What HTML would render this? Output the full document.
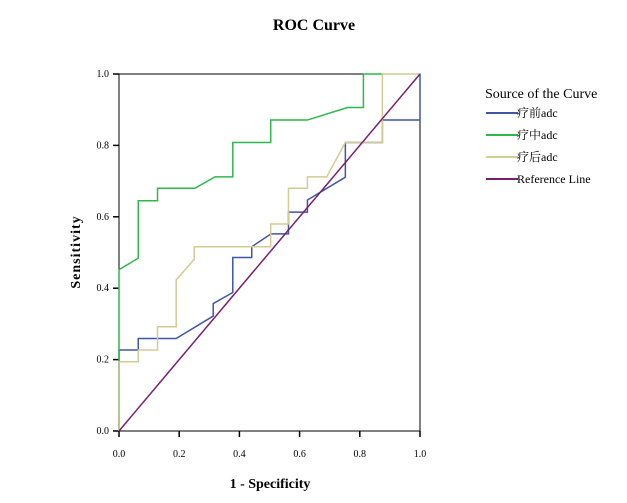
<!DOCTYPE html>
<html><head><meta charset="utf-8"><style>
body{margin:0;background:#fff;width:627px;height:503px;overflow:hidden}
svg{display:block}
text{font-family:"Liberation Serif","Noto Serif CJK SC",serif;fill:#000}
</style></head><body>
<svg id="c" width="627" height="503">
<text x="314" y="30" text-anchor="middle" font-size="16" font-weight="bold">ROC Curve</text>
<text x="270" y="488" text-anchor="middle" font-size="14" font-weight="bold">1 - Specificity</text>
<text transform="translate(80,252) rotate(-90)" text-anchor="middle" font-size="14" font-weight="bold" letter-spacing="1">Sensitivity</text>
<g id="axes"></g><g id="series"></g>
<text x="485" y="98" font-size="14">Source of the Curve</text>
<g id="legend"></g>
</svg>
<script>
const ticks=[0,0.2,0.4,0.6,0.8,1.0];
const seriesNames=["疗前adc","疗中adc","疗后adc","Reference Line"];
const seriesColors=["#3e55a8","#2db84a","#d2cb92","#76206f"];
const blueX=[0,0,0.064,0.064,0.19,0.313,0.313,0.378,0.378,0.441,0.441,0.505,0.563,0.563,0.626,0.626,0.752,0.752,0.875,0.875,1,1];
const blueY=[0,0.227,0.227,0.259,0.259,0.322,0.357,0.388,0.486,0.486,0.516,0.552,0.552,0.613,0.613,0.647,0.711,0.808,0.808,0.871,0.871,1];
const greenX=[0,0,0.064,0.064,0.128,0.128,0.252,0.319,0.378,0.378,0.504,0.504,0.626,0.759,0.812,0.812,0.875];
const greenY=[0,0.452,0.484,0.645,0.645,0.68,0.68,0.712,0.712,0.808,0.808,0.871,0.871,0.906,0.906,1,1];
const tanX=[0,0,0.064,0.064,0.128,0.128,0.19,0.19,0.25,0.25,0.504,0.504,0.563,0.563,0.626,0.626,0.69,0.752,0.875,0.875,1];
const tanY=[0,0.194,0.194,0.227,0.227,0.292,0.292,0.423,0.481,0.516,0.516,0.58,0.58,0.68,0.68,0.712,0.712,0.808,0.808,1,1];
const refX=[0,1];const refY=[0,1];
const X0=119,X1=420,Y0=431,Y1=74;
const sx=v=>X0+v*(X1-X0), sy=v=>Y0-v*(Y0-Y1);
const NS="http://www.w3.org/2000/svg";
function mk(t,a,p){const e=document.createElementNS(NS,t);for(const k in a)e.setAttribute(k,a[k]);p.appendChild(e);return e;}
const ax=document.getElementById('axes');
const frame=mk('rect',{x:X0,y:Y1,width:X1-X0,height:Y0-Y1,fill:'none',stroke:'#000','stroke-width':1},ax);


ticks.forEach(t=>{
 const a=mk('line',{x1:X0-6,x2:X0,y1:sy(t),y2:sy(t),stroke:'#000','stroke-width':1.5},ax);
 
 
 const l=mk('text',{x:X0-10,y:sy(t)+3,'text-anchor':'end','font-size':10},ax);l.textContent=t.toFixed(1);
 
 
 const b=mk('line',{x1:sx(t),x2:sx(t),y1:Y0,y2:Y0+6,stroke:'#000','stroke-width':1.5},ax);
 
 
 const m=mk('text',{x:sx(t),y:Y0+26,'text-anchor':'middle','font-size':10},ax);m.textContent=t.toFixed(1);
 
 
});
const sg=document.getElementById('series');
const data=[[blueX,blueY],[greenX,greenY],[tanX,tanY],[refX,refY]];
const names=['series-pre-adc','series-mid-adc','series-post-adc','reference-line'];
data.forEach((d,i)=>{
 const pts=d[0].map((x,j)=>sx(x)+','+sy(d[1][j])).join(' ');
 const p=mk('polyline',{points:pts,fill:'none',stroke:seriesColors[i],'stroke-width':1.5},sg);
 
 
});
const lg=document.getElementById('legend');
const ly=[113,135,157,179];
seriesNames.forEach((n,i)=>{
 const l=mk('line',{x1:486,x2:518,y1:ly[i],y2:ly[i],stroke:seriesColors[i],'stroke-width':2},lg);
 
 
 const t=mk('text',{x:517,y:ly[i]+4,'font-size':12},lg);t.textContent=n;
 
 
});
</script>
</body></html>
